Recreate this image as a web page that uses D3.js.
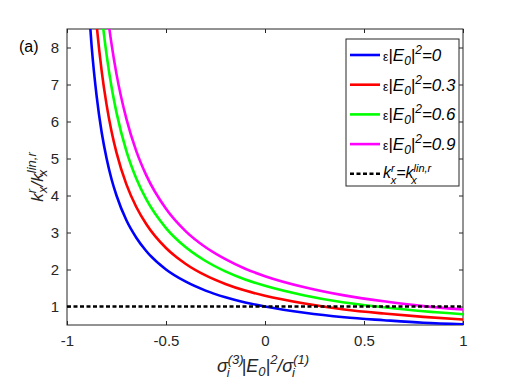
<!DOCTYPE html>
<html>
<head>
<meta charset="utf-8">
<script src="https://cdn.jsdelivr.net/npm/d3@7"></script>
<style>
body { margin: 0; background: #fff; }
svg { font-family: "Liberation Sans", Arial, sans-serif; }
.axis text { font-size: 15px; fill: #262626; }
.axis path, .axis line { stroke: #262626; }
</style>
</head>
<body>
<div id="chart"></div>
<script>
// values
var xs = [-0.9, -0.875, -0.85, -0.825, -0.8, -0.775, -0.75, -0.7, -0.65, -0.6, -0.5, -0.4, -0.3, -0.2, -0.1, 0, 0.2, 0.4, 0.6, 0.8, 1];
var kBlue    = [10, 8, 6.67, 5.71, 5, 4.44, 4, 3.33, 2.86, 2.5, 2, 1.67, 1.43, 1.25, 1.11, 1, 0.83, 0.71, 0.63, 0.56, 0.52];
var kRed     = [12.9, 10.32, 8.6, 7.37, 6.45, 5.73, 5.16, 4.3, 3.69, 3.23, 2.58, 2.15, 1.84, 1.61, 1.43, 1.29, 1.08, 0.92, 0.81, 0.72, 0.65];
var kGreen   = [15.6, 12.48, 10.4, 8.91, 7.8, 6.93, 6.24, 5.2, 4.46, 3.9, 3.12, 2.6, 2.23, 1.95, 1.73, 1.56, 1.3, 1.11, 0.98, 0.87, 0.79];
var kMagenta = [18.2, 14.56, 12.13, 10.4, 9.1, 8.09, 7.28, 6.07, 5.2, 4.55, 3.64, 3.03, 2.6, 2.28, 2.02, 1.82, 1.52, 1.3, 1.14, 1.01, 0.92];
var epsLabels = ["0", "0.3", "0.6", "0.9"];
var refLine = [[-1, 1], [1, 1]];
var xTicks = [-1, -0.5, 0, 0.5, 1];
var yTicks = [1, 2, 3, 4, 5, 6, 7, 8];

var W = 512, H = 384;
var pLeft = 67, pRight = 463, pTop = 29, pBottom = 325;

var svg = d3.select("#chart").append("svg").attr("width", W).attr("height", H);

var x = d3.scaleLinear().domain([-1, 1]).range([pLeft, pRight]);
var y = d3.scaleLinear().domain([0.5, 8.5]).range([pBottom, pTop]);

svg.append("defs").append("clipPath").attr("id", "clip")
	.append("rect").attr("x", pLeft).attr("y", pTop)
	.attr("width", pRight - pLeft).attr("height", pBottom - pTop);

var fmt = function(d) { return String(d); };

// axes, ticks inside, box on
svg.append("g").attr("class", "axis")
	.attr("transform", "translate(0," + pBottom + ")")
	.call(d3.axisBottom(x).tickValues(xTicks).tickSize(-4).tickPadding(10).tickFormat(fmt))
	.call(function(g) { g.select(".domain").remove(); });
svg.append("g").attr("class", "axis")
	.attr("transform", "translate(0," + pTop + ")")
	.call(d3.axisTop(x).tickValues(xTicks).tickSize(-4).tickFormat(""))
	.call(function(g) { g.select(".domain").remove(); });
svg.append("g").attr("class", "axis")
	.attr("transform", "translate(" + pLeft + ",0)")
	.call(d3.axisLeft(y).tickValues(yTicks).tickSize(-4).tickPadding(8).tickFormat(fmt))
	.call(function(g) { g.select(".domain").remove(); });
svg.append("g").attr("class", "axis")
	.attr("transform", "translate(" + pRight + ",0)")
	.call(d3.axisRight(y).tickValues(yTicks).tickSize(-4).tickFormat(""))
	.call(function(g) { g.select(".domain").remove(); });

svg.append("rect").attr("x", pLeft).attr("y", pTop)
	.attr("width", pRight - pLeft).attr("height", pBottom - pTop)
	.attr("fill", "none").attr("stroke", "#262626").attr("stroke-width", 1);

var line = d3.line()
	.x(function(d) { return x(d[0]); })
	.y(function(d) { return y(d[1]); })
	.curve(d3.curveMonotoneX);

var series = [
	{ vals: kBlue, color: "#0000ff" },
	{ vals: kRed, color: "#ff0000" },
	{ vals: kGreen, color: "#00ff00" },
	{ vals: kMagenta, color: "#ff00ff" }
];

var plot = svg.append("g").attr("clip-path", "url(#clip)");

series.forEach(function(s) {
	plot.append("path")
		.datum(xs.map(function(v, i) { return [v, s.vals[i]]; }))
		.attr("fill", "none")
		.attr("stroke", s.color)
		.attr("stroke-width", 2.6)
		.attr("d", line);
});

plot.append("path")
	.datum(refLine)
	.attr("fill", "none")
	.attr("stroke", "#000")
	.attr("stroke-width", 2.6)
	.attr("stroke-dasharray", "4,2.5")
	.attr("d", line);

// legend
var lg = svg.append("g");
lg.append("rect").attr("x", 346).attr("y", 39).attr("width", 113).attr("height", 147)
	.attr("fill", "#fff").attr("stroke", "#262626").attr("stroke-width", 1);

series.forEach(function(s, i) {
	var yy = 55 + i * 29.7;
	lg.append("line").attr("x1", 350).attr("x2", 380).attr("y1", yy).attr("y2", yy)
		.attr("stroke", s.color).attr("stroke-width", 2.6);
	var t = lg.append("text").attr("x", 383).attr("y", yy + 6).attr("font-size", 17).attr("font-style", "italic");
	t.append("tspan").attr("font-size", 12).attr("font-style", "normal").text("\u03b5");
	t.append("tspan").text("|E");
	t.append("tspan").attr("font-size", 12).attr("dy", 4).text("0");
	t.append("tspan").attr("dy", -4).text("|");
	t.append("tspan").attr("font-size", 12).attr("dy", -7).text("2");
	t.append("tspan").attr("dy", 7).text("=" + epsLabels[i]);
});

var yr = 55 + 4 * 29.7;
lg.append("line").attr("x1", 350).attr("x2", 380).attr("y1", yr).attr("y2", yr)
	.attr("stroke", "#000").attr("stroke-width", 2.6).attr("stroke-dasharray", "4,2.5");
var tr = lg.append("text").attr("x", 383).attr("y", yr + 4).attr("font-size", 16).attr("font-style", "italic");
tr.append("tspan").text("k");
tr.append("tspan").attr("font-size", 11).attr("dy", -6).text("r");
tr.append("tspan").attr("font-size", 11).attr("dx", -4).attr("dy", 12).text("x");
tr.append("tspan").attr("dy", -6).text("=k");
tr.append("tspan").attr("font-size", 11).attr("dy", -6).text("lin,r");
tr.append("tspan").attr("font-size", 11).attr("dx", -20).attr("dy", 12).text("x");

// panel tag
svg.append("text").attr("x", 19).attr("y", 52).attr("font-size", 16).attr("fill", "#000").text("(a)");

// y label
var yl = svg.append("text")
	.attr("transform", "translate(43,177) rotate(-90)")
	.attr("text-anchor", "middle")
	.attr("font-size", 17).attr("font-style", "italic").attr("fill", "#262626");
yl.append("tspan").text("k");
yl.append("tspan").attr("font-size", 13).attr("dy", -7).text("r");
yl.append("tspan").attr("font-size", 13).attr("dx", -4).attr("dy", 11).text("x");
yl.append("tspan").attr("dy", -4).text("/k");
yl.append("tspan").attr("font-size", 13).attr("dy", -7).text("lin,r");
yl.append("tspan").attr("font-size", 13).attr("dx", -24).attr("dy", 11).text("x");

// x label
var xl = svg.append("text")
	.attr("x", 263).attr("y", 372)
	.attr("text-anchor", "middle")
	.attr("font-size", 18).attr("font-style", "italic").attr("fill", "#262626");
xl.append("tspan").text("\u03c3");
xl.append("tspan").attr("font-size", 13).attr("dy", -8).text("(3)");
xl.append("tspan").attr("font-size", 13).attr("dx", -17).attr("dy", 13).text("i");
xl.append("tspan").attr("dx", 12).attr("dy", -5).text("|E");
xl.append("tspan").attr("font-size", 13).attr("dy", 4).text("0");
xl.append("tspan").attr("dy", -4).text("|");
xl.append("tspan").attr("font-size", 13).attr("dy", -8).text("2");
xl.append("tspan").attr("dy", 8).text("/\u03c3");
xl.append("tspan").attr("font-size", 13).attr("dy", -8).text("(1)");
xl.append("tspan").attr("font-size", 13).attr("dx", -17).attr("dy", 13).text("i");
</script>
</body>
</html>
